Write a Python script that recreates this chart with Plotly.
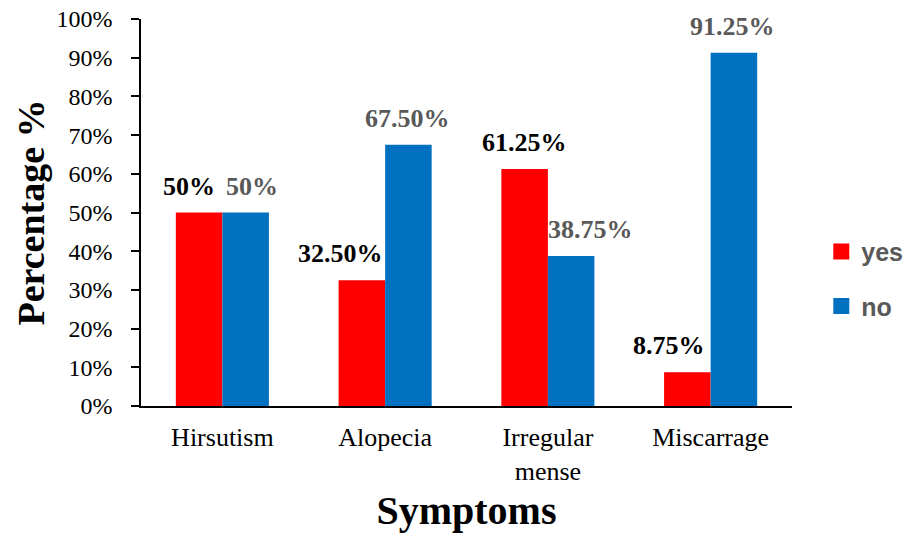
import plotly.graph_objects as go

categories = ["Hirsutism", "Alopecia", "Irregular<br>mense", "Miscarrage"]
yes_values = [50, 32.5, 61.25, 8.75]
no_values = [50, 67.5, 38.75, 91.25]
yes_labels = ["50%", "32.50%", "61.25%", "8.75%"]
no_labels = ["50%", "67.50%", "38.75%", "91.25%"]
y_ticks = list(range(0, 101, 10))

RED = "#FF0000"
BLUE = "#0070C0"
SERIF = "Liberation Serif, Times New Roman, serif"
SANS = "Liberation Sans, Arial, sans-serif"

fig = go.Figure()
fig.add_trace(go.Bar(name="yes", x=categories, y=yes_values, marker_color=RED,
                     marker_line_width=0, showlegend=False))
fig.add_trace(go.Bar(name="no", x=categories, y=no_values, marker_color=BLUE,
                     marker_line_width=0, showlegend=False))

# legend entries with larger square swatches
fig.add_trace(go.Scatter(name="yes", x=[None], y=[None], mode="markers",
                         marker=dict(symbol="square", size=16, color=RED),
                         legendgroup="a"))
fig.add_trace(go.Scatter(name="no", x=[None], y=[None], mode="markers",
                         marker=dict(symbol="square", size=16, color=BLUE),
                         legendgroup="b"))

# value labels above each bar, nudged sideways where neighbours would collide
bar_half = 23.25
yes_extra = [-10, -21, 0, -18]
no_extra = [6, -1, 19, -1]
for i, cat in enumerate(categories):
    fig.add_annotation(x=cat, y=yes_values[i], text=f"<b>{yes_labels[i]}</b>",
                       xshift=-bar_half + yes_extra[i], yshift=10, showarrow=False,
                       yanchor="bottom", font=dict(family=SERIF, size=26, color="#000000"))
    fig.add_annotation(x=cat, y=no_values[i], text=f"<b>{no_labels[i]}</b>",
                       xshift=bar_half + no_extra[i], yshift=10, showarrow=False,
                       yanchor="bottom", font=dict(family=SERIF, size=26, color="#595959"))

fig.update_layout(
    width=907, height=533,
    margin=dict(l=141, r=115, t=19, b=127, autoexpand=False),
    paper_bgcolor="white", plot_bgcolor="white",
    barmode="group", bargap=0.428, bargroupgap=0,
    legend=dict(x=1.045, y=0.329, xanchor="left", yanchor="middle",
                font=dict(family=SANS, size=25, color="#595959", weight="bold"),
                tracegroupgap=19, itemwidth=30, itemsizing="trace",
                bgcolor="rgba(0,0,0,0)"),
    xaxis=dict(showline=True, linecolor="black", linewidth=1.5, ticks="",
               ticklabelstandoff=7,
               tickfont=dict(family=SERIF, size=26, color="black"),
               title=dict(text="<b>Symptoms</b>", font=dict(family=SERIF, size=40, color="black"),
                          standoff=14)),
    yaxis=dict(range=[0, 100], tickvals=y_ticks, ticktext=[f"{v}%" for v in y_ticks],
               showline=True, linecolor="black", linewidth=1.5, ticks="outside",
               ticklen=8, tickcolor="black", tickwidth=1.5, showgrid=False, zeroline=False,
               ticklabelstandoff=14,
               tickfont=dict(family=SERIF, size=24, color="black"),
               title=dict(text="<b>Percentage %</b>", font=dict(family=SERIF, size=38, color="black"),
                          standoff=0)),
)

fig.write_html("out.html")
